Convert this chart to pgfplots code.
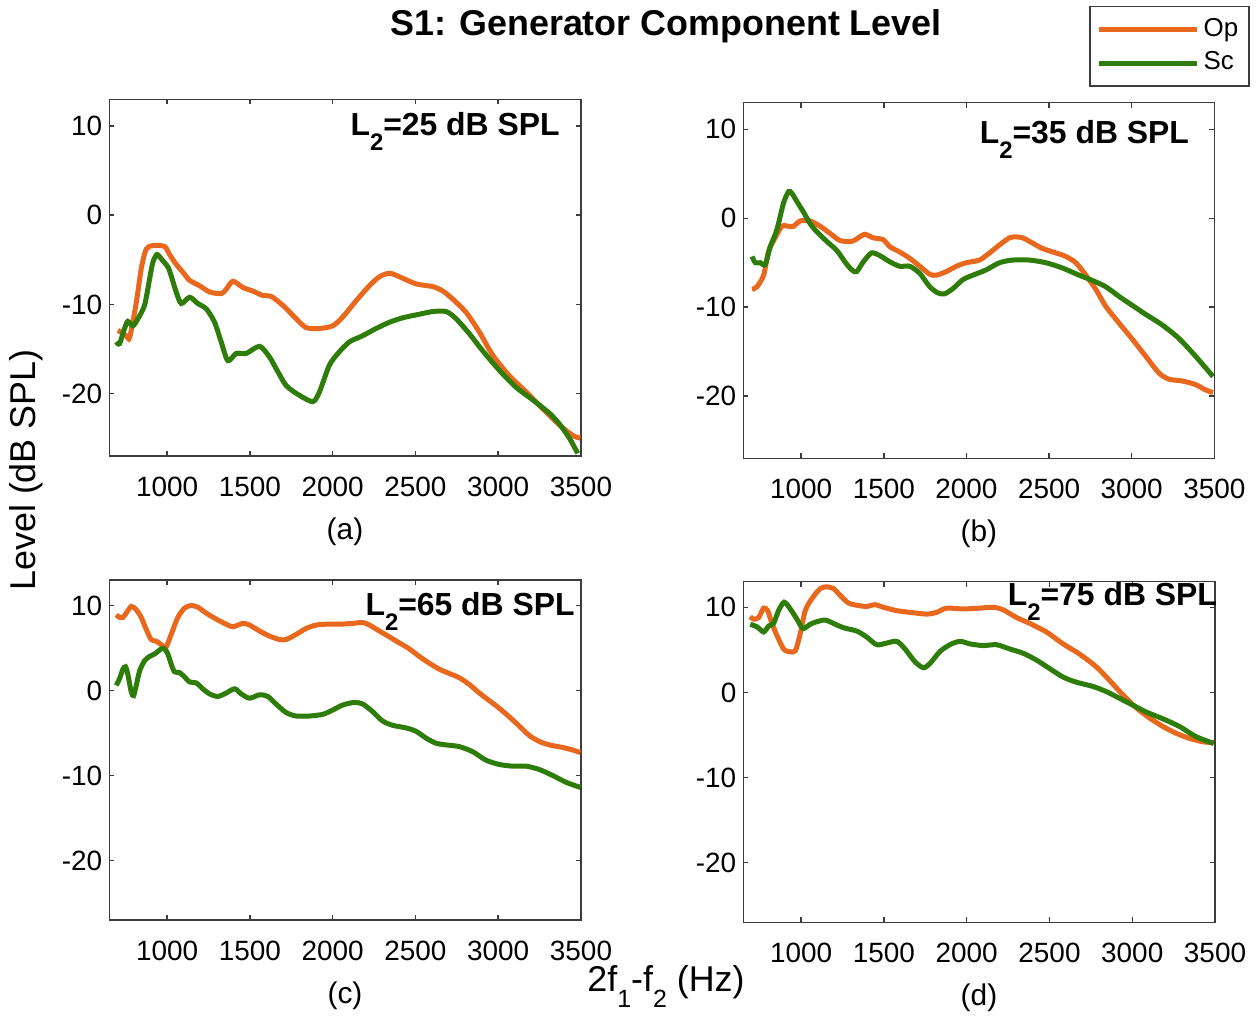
\documentclass[border=0pt]{standalone}
\usepackage{fontspec}
\setmainfont{Liberation Sans}
\usepackage{pgfplots}
\pgfplotsset{compat=1.18}
\definecolor{opc}{RGB}{232,104,30}
\definecolor{scc}{RGB}{46,125,10}
\definecolor{axc}{RGB}{60,60,60}
\pgfplotsset{
 panel/.style={
  scale only axis,
  anchor=south west,
  xmin=650, xmax=3500, ymin=-27, ymax=13,
  xtick={1000,1500,2000,2500,3000,3500}, ytick={-20,-10,0,10},
  tick align=inside,
  major tick length=2.5bp,
  axis line style={axc, line width=0.75bp},
  every tick/.style={axc, line width=0.75bp},
  tick label style={font=\fontsize{14}{16}\selectfont},
  /pgf/number format/assume math mode=true,
  /pgf/number format/1000 sep={},
  xticklabel style={yshift=-7bp},
  legend image code/.code={\draw[#1] (0bp,0bp) -- (49bp,0bp);},
 },
 op/.style={opc, line width=2.5bp, smooth, tension=0.45},
 sc/.style={scc, line width=2.5bp, smooth, tension=0.45},
}
\newcommand{\ann}[1]{\fontsize{16}{18}\selectfont\bfseries L\raisebox{-7.5bp}{\fontsize{12}{13}\selectfont 2}=#1 dB SPL}
\begin{document}
\begin{tikzpicture}
\path[use as bounding box] (0bp,0bp) rectangle (630bp,-509bp);
% (a)
\begin{axis}[panel, at={(54.65bp,-228bp)}, width=235.85bp, height=178.35bp]
\addplot[op] coordinates {(702,-12.9) (752,-13.5) (773,-13.7) (813,-9.8) (843,-6.0) (873,-3.8) (913,-3.4) (984,-3.5) (1014,-4.4) (1054,-5.5) (1095,-6.4) (1135,-7.3) (1195,-7.9) (1256,-8.6) (1326,-8.8) (1356,-8.3) (1397,-7.4) (1457,-8.1) (1517,-8.5) (1578,-9.0) (1628,-9.1) (1698,-10.1) (1779,-11.6) (1839,-12.6) (1920,-12.7) (2000,-12.4) (2061,-11.4) (2141,-9.6) (2222,-7.9) (2282,-6.9) (2343,-6.5) (2403,-6.9) (2504,-7.7) (2604,-8.0) (2665,-8.5) (2725,-9.4) (2806,-10.9) (2886,-13.1) (2967,-15.7) (3067,-18.0) (3168,-19.8) (3269,-21.7) (3369,-23.5) (3450,-24.7) (3496,-25.0)};
\addplot[sc] coordinates {(692,-14.2) (712,-14.4) (742,-12.7) (762,-11.9) (793,-12.4) (823,-11.6) (863,-10.1) (893,-7.2) (913,-5.3) (938,-4.4) (964,-4.9) (1004,-5.8) (1024,-6.8) (1054,-8.6) (1085,-9.9) (1135,-9.2) (1185,-9.9) (1236,-10.5) (1286,-12.0) (1326,-14.2) (1366,-16.3) (1417,-15.5) (1477,-15.5) (1558,-14.7) (1618,-15.9) (1658,-17.2) (1719,-19.1) (1799,-20.2) (1880,-20.9) (1920,-19.8) (1980,-16.8) (2041,-15.3) (2101,-14.2) (2182,-13.5) (2262,-12.7) (2343,-12.0) (2423,-11.5) (2524,-11.1) (2604,-10.8) (2685,-10.8) (2745,-11.6) (2826,-13.3) (2906,-15.2) (3007,-17.4) (3108,-19.3) (3208,-20.7) (3309,-22.2) (3369,-23.4) (3430,-25.0) (3480,-26.7)};
\end{axis}
% (b)
\begin{axis}[panel, at={(371.65bp,-229.15bp)}, width=235.5bp, height=177.8bp,
  legend style={at={(0.7346,1.272)}, anchor=north west, draw=axc, line width=0.75bp,
   inner xsep=3.3bp, inner ysep=3.75bp, row sep=1.2bp, column sep=0bp,
   nodes={inner sep=2bp, text height=9bp, text depth=2.5bp, font=\fontsize{13}{15}\selectfont}},
  legend cell align=left]
\addplot[op] coordinates {(703,-8.0) (733,-7.7) (773,-6.4) (803,-3.7) (843,-2.2) (883,-0.9) (924,-0.9) (954,-0.9) (994,-0.3) (1054,-0.3) (1115,-0.9) (1175,-1.7) (1235,-2.5) (1306,-2.6) (1346,-2.2) (1386,-1.8) (1436,-2.2) (1496,-2.4) (1537,-3.2) (1597,-3.8) (1657,-4.5) (1718,-5.4) (1778,-6.3) (1818,-6.4) (1878,-6.0) (1939,-5.4) (1999,-5.0) (2079,-4.7) (2140,-3.9) (2200,-3.0) (2260,-2.2) (2300,-2.1) (2341,-2.2) (2401,-2.8) (2461,-3.4) (2542,-3.9) (2602,-4.3) (2662,-5.0) (2723,-6.4) (2783,-8.0) (2843,-9.9) (2924,-11.8) (3004,-13.6) (3084,-15.5) (3165,-17.4) (3225,-18.1) (3305,-18.3) (3386,-18.7) (3446,-19.3) (3492,-19.6)};
\addlegendentry{Op}
\addplot[sc] coordinates {(703,-4.3) (723,-5.0) (753,-5.0) (783,-5.2) (813,-3.2) (853,-1.3) (893,1.7) (924,3.0) (944,2.8) (974,1.9) (1014,0.7) (1054,-0.6) (1094,-1.5) (1155,-2.6) (1215,-3.6) (1265,-4.9) (1306,-5.8) (1336,-6.0) (1376,-4.9) (1426,-3.9) (1476,-4.2) (1537,-4.9) (1597,-5.4) (1657,-5.4) (1718,-6.2) (1778,-7.7) (1828,-8.4) (1868,-8.5) (1919,-7.9) (1979,-6.9) (2039,-6.4) (2120,-5.8) (2200,-5.0) (2280,-4.7) (2381,-4.7) (2481,-5.0) (2582,-5.6) (2682,-6.4) (2763,-7.0) (2843,-7.7) (2924,-8.8) (3004,-9.8) (3084,-10.8) (3185,-12.0) (3285,-13.5) (3386,-15.5) (3492,-17.8)};
\addlegendentry{Sc}
\end{axis}
% (c)
\begin{axis}[panel, at={(54.65bp,-460bp)}, width=235.85bp, height=170bp]
\addplot[op] coordinates {(692,8.9) (712,8.6) (732,8.6) (752,9.1) (783,9.9) (813,9.5) (843,8.6) (873,7.2) (903,6.0) (934,5.8) (964,5.4) (990,5.0) (1024,6.6) (1064,8.6) (1105,9.7) (1145,10.0) (1185,9.8) (1236,9.1) (1296,8.4) (1356,7.8) (1397,7.5) (1457,7.9) (1497,7.7) (1558,7.0) (1618,6.4) (1678,6.0) (1719,6.0) (1779,6.6) (1839,7.3) (1900,7.7) (1960,7.8) (2041,7.8) (2121,7.9) (2182,8.0) (2222,7.7) (2282,7.0) (2343,6.3) (2403,5.6) (2463,4.9) (2524,4.0) (2584,3.2) (2645,2.5) (2705,2.0) (2765,1.5) (2826,0.7) (2886,-0.3) (2947,-1.2) (3007,-2.1) (3067,-3.1) (3128,-4.2) (3188,-5.3) (3249,-6.0) (3309,-6.4) (3389,-6.7) (3450,-7.0) (3496,-7.3)};
\addplot[sc] coordinates {(692,0.6) (712,1.4) (732,2.5) (748,2.8) (762,1.9) (783,-0.2) (797,-0.6) (813,0.6) (833,2.3) (863,3.5) (893,4.0) (924,4.3) (964,4.9) (984,4.9) (1004,4.3) (1024,3.1) (1044,2.2) (1074,2.1) (1105,1.6) (1135,1.0) (1175,0.9) (1215,0.2) (1256,-0.4) (1306,-0.7) (1356,-0.3) (1407,0.2) (1447,-0.4) (1497,-0.9) (1558,-0.5) (1608,-0.7) (1658,-1.6) (1719,-2.6) (1779,-3.0) (1860,-3.0) (1940,-2.8) (2000,-2.3) (2061,-1.7) (2131,-1.4) (2182,-1.6) (2242,-2.5) (2302,-3.6) (2363,-4.1) (2443,-4.4) (2504,-4.8) (2564,-5.6) (2624,-6.2) (2685,-6.4) (2765,-6.6) (2846,-7.2) (2926,-8.2) (3007,-8.7) (3087,-8.9) (3168,-8.9) (3249,-9.3) (3329,-10.0) (3410,-10.8) (3496,-11.4)};
\end{axis}
% (d)
\begin{axis}[panel, at={(371.65bp,-461.15bp)}, width=235.85bp, height=170.3bp]
\addplot[op] coordinates {(692,8.9) (713,8.6) (743,8.8) (773,9.9) (797,9.6) (823,8.1) (853,6.7) (893,5.1) (924,4.8) (964,4.9) (994,6.9) (1024,9.6) (1064,11.0) (1115,12.2) (1155,12.4) (1195,12.2) (1235,11.4) (1285,10.5) (1346,10.2) (1396,10.1) (1446,10.3) (1496,10.0) (1577,9.6) (1657,9.4) (1758,9.2) (1818,9.4) (1878,9.9) (1979,9.8) (2079,9.9) (2160,10.0) (2220,9.7) (2300,8.8) (2381,8.1) (2481,7.1) (2582,5.7) (2682,4.5) (2783,3.0) (2863,1.4) (2944,-0.3) (3024,-1.8) (3104,-3.0) (3185,-4.0) (3265,-4.8) (3346,-5.4) (3426,-5.8) (3492,-5.9)};
\addplot[sc] coordinates {(692,8.0) (733,7.7) (773,7.1) (803,7.8) (833,8.1) (863,9.6) (897,10.6) (934,9.8) (974,8.6) (1010,7.5) (1054,8.0) (1094,8.3) (1145,8.5) (1195,8.1) (1255,7.6) (1336,7.2) (1396,6.5) (1456,5.6) (1517,5.8) (1577,6.0) (1627,5.1) (1687,3.6) (1738,2.9) (1778,3.4) (1838,4.8) (1898,5.6) (1959,6.0) (2019,5.7) (2099,5.5) (2180,5.6) (2260,5.1) (2341,4.6) (2421,3.8) (2501,2.8) (2582,1.8) (2662,1.2) (2763,0.7) (2843,0.1) (2924,-0.7) (3004,-1.5) (3084,-2.3) (3185,-3.1) (3285,-4.0) (3386,-5.2) (3492,-6.0)};
\end{axis}
% annotations
\node[anchor=base east, inner sep=0pt] at (280bp,-67.5bp) {\ann{25}};
\node[anchor=base east, inner sep=0pt] at (594.65bp,-71.65bp) {\ann{35}};
\node[anchor=base east, inner sep=0pt] at (287.5bp,-307.5bp) {\ann{65}};
\node[anchor=base east, inner sep=0pt] at (608.65bp,-302.5bp) {\ann{75}};
% panel labels
\node[anchor=base, inner sep=0pt, font=\fontsize{15}{17}\selectfont] at (172.5bp,-269.5bp) {(a)};
\node[anchor=base, inner sep=0pt, font=\fontsize{15}{17}\selectfont] at (489.4bp,-270.5bp) {(b)};
\node[anchor=base, inner sep=0pt, font=\fontsize{15}{17}\selectfont] at (172.5bp,-501.5bp) {(c)};
\node[anchor=base, inner sep=0pt, font=\fontsize{15}{17}\selectfont] at (489.5bp,-502.5bp) {(d)};
% title and axis labels
\node[anchor=base, inner sep=0pt, font=\fontsize{18}{20}\selectfont\bfseries] at (333bp,-17.5bp) {S1: Generator Component Level};
\node[anchor=base, rotate=90, inner sep=0pt, font=\fontsize{18}{20}\selectfont] at (17.5bp,-235bp) {Level (dB SPL)};
\node[anchor=base, inner sep=0pt, font=\fontsize{18}{20}\selectfont] at (333bp,-495.5bp) {2f\raisebox{-8bp}{\fontsize{12.5}{14}\selectfont 1}-f\raisebox{-8bp}{\fontsize{12.5}{14}\selectfont 2} (Hz)};
\end{tikzpicture}
\end{document}
